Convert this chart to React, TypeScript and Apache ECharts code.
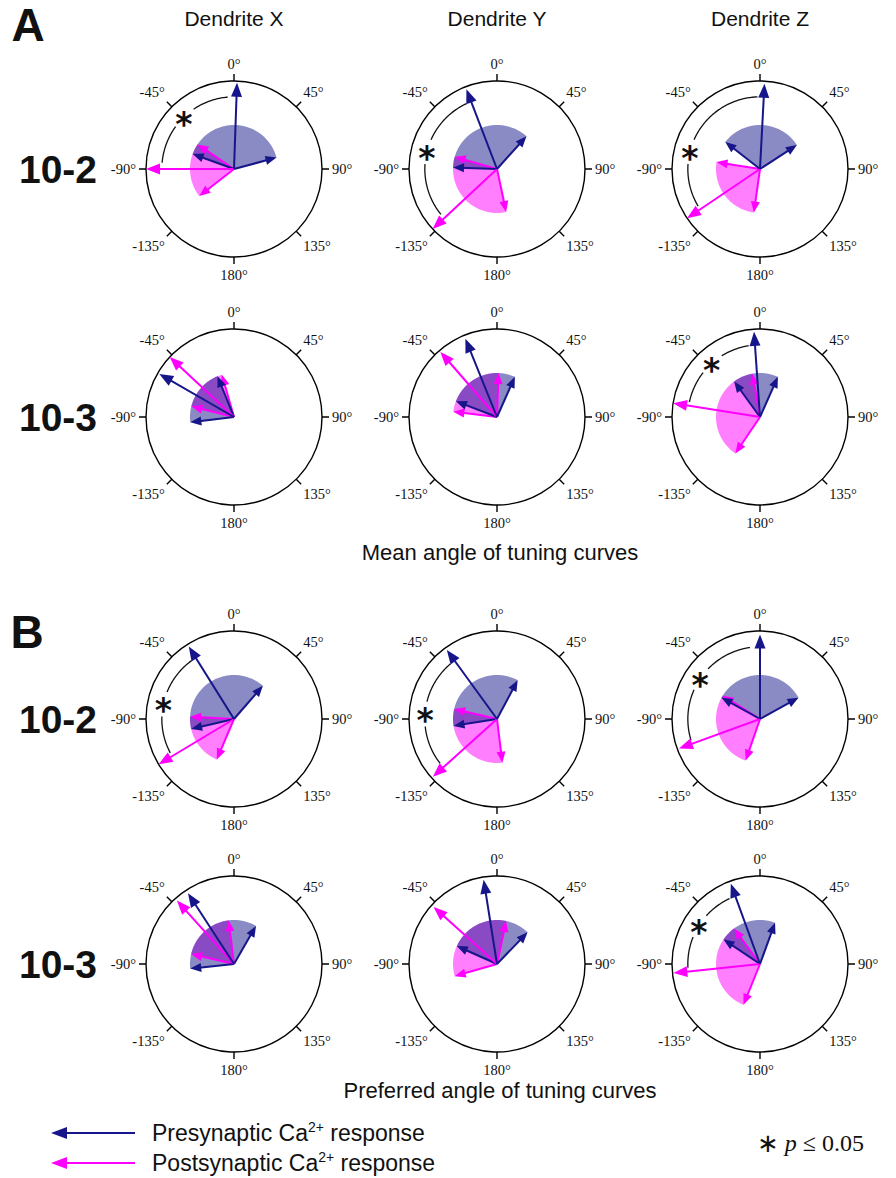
import React, { useEffect, useRef } from 'react';
import * as echarts from 'echarts';

// ---------- texts ----------
const sectionLabels = ['A', 'B'];
const columnTitles = ['Dendrite X', 'Dendrite Y', 'Dendrite Z'];
const rowLabels = ['10-2', '10-3', '10-2', '10-3'];
const captions = ['Mean angle of tuning curves', 'Preferred angle of tuning curves'];
const legendLabels = ['Presynaptic Ca{s|2+} response', 'Postsynaptic Ca{s|2+} response'];
const angleTickStep = 45;

// ---------- data (12 panels: A 10-2 X,Y,Z; A 10-3 X,Y,Z; B 10-2 X,Y,Z; B 10-3 X,Y,Z) ----------
// angles in degrees (0 = up, clockwise positive), lengths relative to circle radius
const preMeanAngle = [2, -21, 3, -60, -22, -4, -32, -36, 0, -33, -9, -20];
const preMeanLength = [0.98, 0.97, 0.97, 0.98, 0.96, 0.97, 0.97, 0.97, 0.96, 0.96, 0.97, 0.97];
const postMeanAngle = [-90, -133, -124, -47, -41, -81, -121, -132, -110, -42, -48, -96];
const postMeanLength = [1.0, 1.0, 1.0, 1.0, 0.98, 1.0, 1.0, 0.98, 0.98, 0.97, 0.97, 0.99];
const preSectorLo = [-70, -88, -52, -97, -69, -36, -103, -99, -61, -96, -66, -56];
const preSectorHi = [75, 42, 57, -22, 24, 24, 41, 28, 61, 30, 44, 20];
const postSectorLo = [-128, -192, -172, -76, -83, -146, -157, -187, -161, -77, -106, -158];
const postSectorHi = [-56, -74, -81, -16, 2, -10, -87, -77, -58, -7, 12, -36];
const sectorRadius = 0.5;
const sigFrom: (number | null)[] = [-5, -25, -2, null, null, -9, -36, -40, -8, null, null, -25];
const sigTo: (number | null)[] = [-85, -129, -121, null, null, -78, -118, -128, -107, null, null, -93];
const sigStar: (number | null)[] = [-44, -76, -76, null, null, -42, -78, -86, -56, null, null, -58];
const sigRadius = 0.82;

// ---------- layout / style ----------
const W = 896;
const H = 1178;
const colX = [234, 497, 760];
const rowY = [169, 417, 719, 964];
const R = 88;
const NAVY = '#16168a';
const MAGENTA = '#ff00ff';
const PRE_FILL = 'rgba(22,22,138,0.5)';
const POST_FILL = 'rgba(255,0,255,0.5)';
const SANS = 'Liberation Sans, Arial, sans-serif';
const SERIF = 'Liberation Serif, Times New Roman, serif';

function norm(a: number) {
  return ((((a + 180) % 360) + 360) % 360) - 180;
}

// kinds: 0 pre sector, 1 post sector, 2 pre mean, 3 post mean, 4 pre edge, 5 post edge, 6 sig arc, 7 asterisk
function panelData(i: number) {
  const d: number[][] = [];
  d.push([sectorRadius, norm(postSectorLo[i]), 1, postSectorLo[i], postSectorHi[i], 0]);
  d.push([sectorRadius, norm(preSectorLo[i]), 0, preSectorLo[i], preSectorHi[i], 0]);
  const f = sigFrom[i], t = sigTo[i], s = sigStar[i];
  if (f !== null && t !== null && s !== null) {
    d.push([sigRadius, norm(f), 6, f, t, s]);
    d.push([sigRadius, norm(s), 7, 0, 0, 0]);
  }
  d.push([sectorRadius, norm(postSectorLo[i]), 5, 0, 0, 0]);
  d.push([sectorRadius, norm(postSectorHi[i]), 5, 0, 0, 0]);
  d.push([sectorRadius, norm(preSectorLo[i]), 4, 0, 0, 0]);
  d.push([sectorRadius, norm(preSectorHi[i]), 4, 0, 0, 0]);
  d.push([postMeanLength[i], norm(postMeanAngle[i]), 3, 0, 0, 0]);
  d.push([preMeanLength[i], norm(preMeanAngle[i]), 2, 0, 0, 0]);
  return d;
}

const renderItem = (params: any, api: any) => {
  const kind = api.value(2);
  const c = api.coord([0, 0]);
  const P = (r: number, a: number) => api.coord([r, norm(a)]);
  const arcPts = (r: number, a: number, b: number) => {
    const n = Math.max(2, Math.ceil(Math.abs(b - a)));
    const pts: number[][] = [];
    for (let k = 0; k <= n; k++) pts.push(P(r, a + ((b - a) * k) / n));
    return pts;
  };
  if (kind === 0 || kind === 1) {
    const pts = [c].concat(arcPts(api.value(0), api.value(3), api.value(4)));
    return {
      type: 'polygon',
      shape: { points: pts },
      style: { fill: kind === 0 ? PRE_FILL : POST_FILL },
    };
  }
  if (kind >= 2 && kind <= 5) {
    const tip = P(api.value(0), api.value(1));
    const dx = tip[0] - c[0];
    const dy = tip[1] - c[1];
    const len = Math.hypot(dx, dy) || 1;
    const ux = dx / len;
    const uy = dy / len;
    const main = kind === 2 || kind === 3;
    const L = main ? 14 : 11;
    const hw = main ? 5.5 : 4.5;
    const bx = tip[0] - ux * L;
    const by = tip[1] - uy * L;
    const col = kind === 2 || kind === 4 ? NAVY : MAGENTA;
    return {
      type: 'group',
      children: [
        {
          type: 'line',
          shape: { x1: c[0], y1: c[1], x2: tip[0] - ux * L * 0.6, y2: tip[1] - uy * L * 0.6 },
          style: { stroke: col, lineWidth: 2 },
        },
        {
          type: 'polygon',
          shape: { points: [tip, [bx - uy * hw, by + ux * hw], [bx + uy * hw, by - ux * hw]] },
          style: { fill: col },
        },
      ],
    };
  }
  if (kind === 6) {
    const r = api.value(0);
    const from = api.value(3);
    const to = api.value(4);
    const star = api.value(5);
    const dir = Math.sign(to - from);
    const gap = 10;
    return {
      type: 'group',
      children: [
        { type: 'polyline', shape: { points: arcPts(r, from, star - dir * gap) }, style: { stroke: '#111', lineWidth: 1.3, fill: 'none' } },
        { type: 'polyline', shape: { points: arcPts(r, star + dir * gap, to) }, style: { stroke: '#111', lineWidth: 1.3, fill: 'none' } },
      ],
    };
  }
  if (kind === 7) {
    const p = P(api.value(0), api.value(1));
    return {
      type: 'text',
      x: p[0],
      y: p[1] + 7,
      style: { text: '*', fontSize: 33, fontWeight: 'bold', fontFamily: 'DejaVu Sans', fill: '#111', align: 'center', verticalAlign: 'middle' },
    };
  }
  return null;
};

function buildOption() {
  const polar: any[] = [];
  const angleAxis: any[] = [];
  const radiusAxis: any[] = [];
  const series: any[] = [];
  for (let i = 0; i < 12; i++) {
    const row = Math.floor(i / 3);
    const col = i % 3;
    polar.push({ center: [colX[col], rowY[row]], radius: R });
    angleAxis.push({
      polarIndex: i,
      type: 'value',
      min: -180,
      max: 180,
      interval: angleTickStep,
      startAngle: 270,
      clockwise: true,
      axisLine: { show: true, lineStyle: { color: '#000', width: 1.4 } },
      axisTick: { show: true, inside: false, length: 7, lineStyle: { color: '#000', width: 1.4 } },
      axisLabel: {
        show: true,
        margin: 10,
        color: '#111',
        fontFamily: SERIF,
        fontSize: 14.5,
        formatter: (v: number) => `${Math.abs(v) === 180 ? 180 : v}°`,
      },
      splitLine: { show: false },
    });
    radiusAxis.push({
      polarIndex: i,
      type: 'value',
      min: 0,
      max: 1,
      axisLine: { show: false },
      axisTick: { show: false },
      axisLabel: { show: false },
      splitLine: { show: false },
    });
    series.push({
      type: 'custom',
      coordinateSystem: 'polar',
      polarIndex: i,
      encode: { radius: 0, angle: 1 },
      clip: false,
      silent: true,
      renderItem,
      data: panelData(i),
    });
  }

  const graphic: any[] = [];
  const txt = (x: number, y: number, text: string, size: number, opts: any = {}) => ({
    type: 'text',
    x,
    y,
    silent: true,
    style: {
      text,
      fontSize: size,
      fontFamily: opts.family || SANS,
      fontWeight: opts.weight || 'normal',
      fill: '#111',
      align: opts.align || 'center',
      verticalAlign: 'middle',
      rich: opts.rich,
    },
  });
  graphic.push(txt(28, 25, sectionLabels[0], 46, { weight: 'bold' }));
  graphic.push(txt(27, 632, sectionLabels[1], 46, { weight: 'bold' }));
  columnTitles.forEach((t, k) => graphic.push(txt(colX[k], 18, t, 21)));
  rowLabels.forEach((t, k) => graphic.push(txt(58, rowY[k], t, 39, { weight: 'bold' })));
  graphic.push(txt(500, 552, captions[0], 22));
  graphic.push(txt(500, 1090, captions[1], 22));

  const legendY = [1133, 1163];
  const legendCol = [NAVY, MAGENTA];
  legendY.forEach((y, k) => {
    graphic.push({ type: 'line', silent: true, shape: { x1: 60, y1: y, x2: 135, y2: y }, style: { stroke: legendCol[k], lineWidth: 2 } });
    graphic.push({ type: 'polygon', silent: true, shape: { points: [[51, y], [67, y - 6], [67, y + 6]] }, style: { fill: legendCol[k] } });
    graphic.push(
      txt(152, y, legendLabels[k], 23, {
        align: 'left',
        rich: { s: { fontSize: 14, fontFamily: SANS, fill: '#111', verticalAlign: 'top', lineHeight: 27 } },
      }),
    );
  });
  graphic.push(
    txt(757, 1143, '{a|∗} {i|p} ≤ 0.05', 24, {
      align: 'left',
      family: SERIF,
      rich: {
        a: { fontSize: 26, fontFamily: 'DejaVu Sans', fill: '#111' },
        i: { fontSize: 24, fontFamily: SERIF, fontStyle: 'italic', fill: '#111' },
      },
    }),
  );

  return {
    animation: false,
    backgroundColor: '#ffffff',
    polar,
    angleAxis,
    radiusAxis,
    series,
    graphic,
  };
}

export default function App() {
  const ref = useRef<HTMLDivElement>(null);
  useEffect(() => {
    if (!ref.current) return;
    const chart = echarts.init(ref.current, null, { renderer: 'svg' });
    chart.setOption(buildOption() as any);
    return () => chart.dispose();
  }, []);
  return (
    <div
      ref={ref}
      style={{ position: 'absolute', left: 0, top: 0, width: W, height: H, background: '#fff' }}
    />
  );
}
